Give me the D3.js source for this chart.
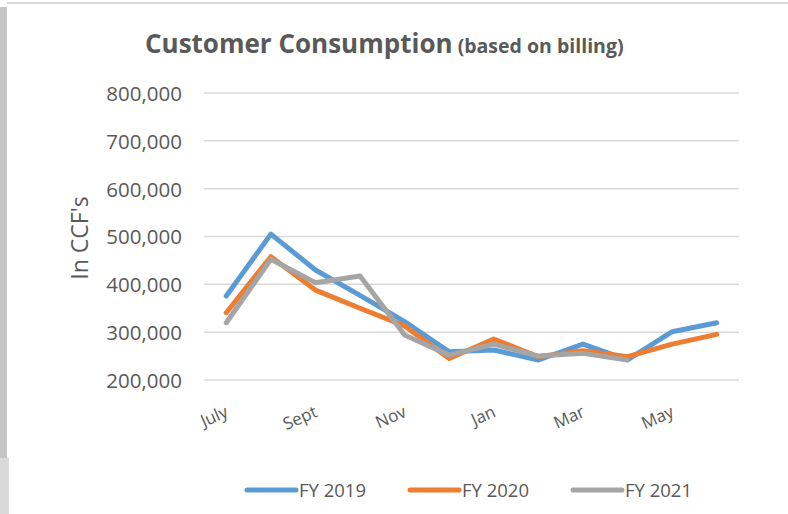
<!DOCTYPE html>
<html>
<head>
<meta charset="utf-8">
<script src="https://cdn.jsdelivr.net/npm/d3@7"></script>
<style>
  body { margin: 0; background: #fff; }
  svg { display: block; }
</style>
</head>
<body>
<script>
// months of the fiscal year (July - June)
var months = ['July', 'Aug', 'Sept', 'Oct', 'Nov', 'Dec', 'Jan', 'Feb', 'Mar', 'Apr', 'May', 'June'];
var fy2019 = [375600, 505000, 430000, 377000, 322000, 259000, 262700, 241800, 275000, 242000, 301000, 319800];
var fy2020 = [340700, 457800, 388000, 350000, 313000, 245000, 285700, 248700, 261000, 248700, 275000, 295500];
var fy2021 = [319800, 452300, 403500, 417400, 294000, 252000, 275000, 250000, 255700, 242000];
var seriesNames = ['FY 2019', 'FY 2020', 'FY 2021'];
var yTicks = [200000, 300000, 400000, 500000, 600000, 700000, 800000];

var colors = ['#5b9bd5', '#ed7d31', '#a5a5a5'];
var W = 788, H = 514;
var plotLeft = 204, plotRight = 739, plotTop = 93, plotBottom = 380;

var svg = d3.select('body').append('svg')
    .attr('width', W)
    .attr('height', H);

// frame bits of the screenshot
svg.append('rect').attr('x', 7).attr('y', 2).attr('width', W - 7).attr('height', 2).style('fill', '#d9d9d9');
svg.append('rect').attr('x', 0).attr('y', 7).attr('width', 7).attr('height', 451).style('fill', '#c6c6c6');
svg.append('rect').attr('x', 0).attr('y', 458).attr('width', 9).attr('height', H - 458).style('fill', '#d9d9d9');

var x = d3.scaleBand().domain(months).range([plotLeft, plotRight]);
var y = d3.scaleLinear().domain([200000, 800000]).range([plotBottom, plotTop]);

// gridlines
svg.append('g').selectAll('line')
    .data(yTicks)
    .enter().append('line')
    .attr('x1', plotLeft)
    .attr('x2', plotRight)
    .attr('y1', function(d) { return y(d); })
    .attr('y2', function(d) { return y(d); })
    .style('stroke', '#d9d9d9')
    .style('stroke-width', 1.5);

// y axis labels
var yAxis = d3.axisLeft(y).tickValues(yTicks).tickSize(0).tickPadding(22)
    .tickFormat(d3.format(','));
var yg = svg.append('g').attr('transform', 'translate(' + plotLeft + ',0)').call(yAxis);
yg.select('.domain').remove();
yg.selectAll('text')
    .attr('dy', '0.36em')
    .style('font-family', 'Open Sans, sans-serif')
    .style('font-size', '20.5px')
    .style('fill', '#595959');

// x axis labels, rotated, every other month
var xAxis = d3.axisBottom(x).tickSize(0)
    .tickValues(months.filter(function(d, i) { return i % 2 === 0; }));
var xg = svg.append('g').attr('transform', 'translate(0,' + plotBottom + ')').call(xAxis);
xg.select('.domain').remove();
xg.selectAll('text')
    .attr('dy', 0)
    .attr('y', 0)
    .attr('text-anchor', 'end')
    .attr('transform', 'translate(3,36) rotate(-24)')
    .style('font-family', 'Open Sans, sans-serif')
    .style('font-size', '17px')
    .style('fill', '#595959');

// lines
var line = d3.line()
    .x(function(d, i) { return x(months[i]) + x.bandwidth() / 2; })
    .y(function(d) { return y(d); });

[fy2019, fy2020, fy2021].forEach(function(vals, k) {
    svg.append('path')
        .datum(vals)
        .attr('d', line)
        .style('fill', 'none')
        .style('stroke', colors[k])
        .style('stroke-width', 5)
        .style('stroke-linejoin', 'round')
        .style('stroke-linecap', 'round');
});

// title
var title = svg.append('text')
    .attr('x', 145)
    .attr('y', 53)
    .style('font-family', 'Open Sans, sans-serif')
    .style('font-weight', 'bold')
    .style('fill', '#595959');
title.append('tspan').text('Customer Consumption').style('font-size', '26px');
title.append('tspan').text(' (based on billing)').style('font-size', '19.5px');

// y axis title
svg.append('text')
    .attr('transform', 'translate(88,238) rotate(-90)')
    .attr('text-anchor', 'middle')
    .text("In CCF's")
    .style('font-family', 'Open Sans, sans-serif')
    .style('font-size', '23px')
    .style('fill', '#595959');

// legend
var legendX = [247, 410, 573];
seriesNames.forEach(function(name, k) {
    svg.append('line')
        .attr('x1', legendX[k])
        .attr('x2', legendX[k] + 49)
        .attr('y1', 490)
        .attr('y2', 490)
        .style('stroke', colors[k])
        .style('stroke-width', 5)
        .style('stroke-linecap', 'round');
    svg.append('text')
        .attr('x', legendX[k] + 52)
        .attr('y', 497)
        .text(name)
        .style('font-family', 'Open Sans, sans-serif')
        .style('font-size', '18.5px')
        .style('fill', '#595959');
});
</script>
</body>
</html>
